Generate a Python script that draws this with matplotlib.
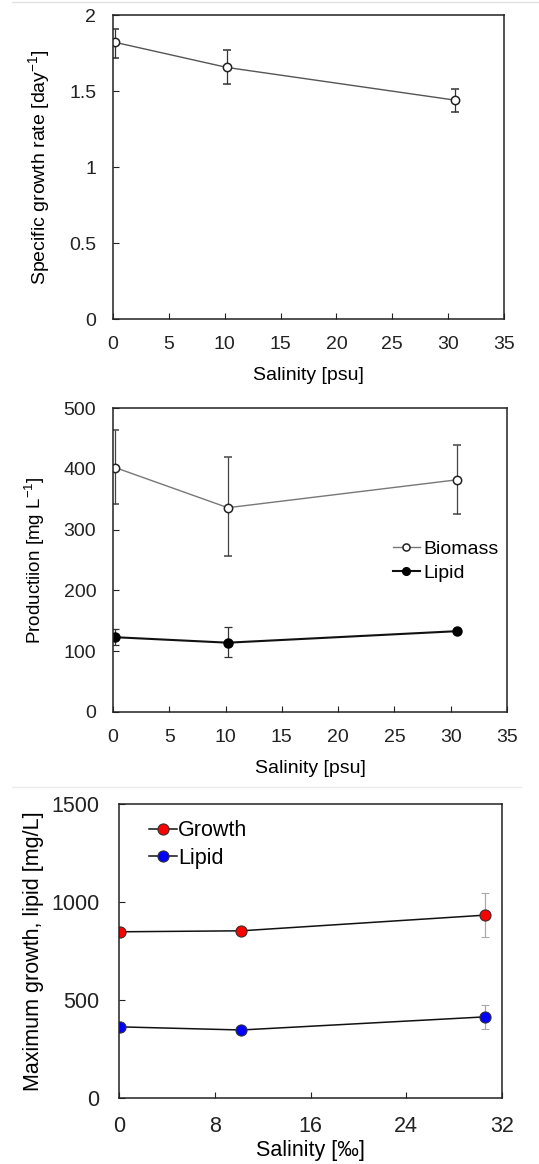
import matplotlib
matplotlib.use('agg')
import matplotlib.pyplot as plt
from matplotlib.lines import Line2D

plt.rcParams['font.family'] = ['Liberation Sans', 'DejaVu Sans']
plt.rcParams['mathtext.fontset'] = 'custom'
plt.rcParams['mathtext.rm'] = 'Liberation Sans'

# panel 1: specific growth rate
sal_a = [0.2, 10.2, 30.6]
mu = [1.82, 1.655, 1.44]
mu_err_lo = [0.10, 0.11, 0.08]
mu_err_hi = [0.09, 0.115, 0.075]

# panel 2: production
sal_b = [0.2, 10.2, 30.6]
biomass = [402, 336, 382]
biomass_lo = [60, 80, 56]
biomass_hi = [61, 83, 57]
lipid_b = [123, 114, 133]
lipid_b_lo = [13, 24, 0]
lipid_b_hi = [14, 26, 0]

# panel 3: max growth / lipid
sal_c = [0.05, 10.2, 30.6]
growth = [848, 853, 933]
growth_lo = [0, 0, 112]
growth_hi = [0, 0, 114]
lipid_c = [363, 347, 414]
lipid_c_lo = [0, 0, 60]
lipid_c_hi = [0, 0, 59]

fig = plt.figure(figsize=(5.39, 11.64), dpi=100)

# faint separator lines from the source screenshot
fig.add_artist(Line2D([12/539, 1], [1 - 2/1164] * 2, color='#e2e2e2', lw=1))
fig.add_artist(Line2D([12/539, 521/539], [1 - 787/1164] * 2, color='#ececec', lw=1))

def style(ax, fs, xpad, ypad):
    for s in ax.spines.values():
        s.set_linewidth(1.1)
        s.set_color('#222222')
    ax.tick_params(direction='in', length=4, width=0.8, labelsize=fs, colors='#222222')
    ax.tick_params(axis='x', pad=xpad)
    ax.tick_params(axis='y', pad=ypad)

# ---- panel 1
ax1 = fig.add_axes([113/539, 1 - 319/1164, 391/539, 304/1164])
ax1.errorbar(sal_a, mu, yerr=[mu_err_lo, mu_err_hi], color='#555555', lw=1,
             ecolor='#333333', elinewidth=0.9, capsize=3, capthick=0.9,
             marker='o', ms=6, mfc='white', mec='#222222', mew=1.1)
ax1.set_xlim(0, 35)
ax1.set_ylim(0, 2)
ax1.set_xticks(range(0, 36, 5))
ax1.set_yticks([0, 0.5, 1, 1.5, 2])
ax1.set_yticklabels(['0', '0.5', '1', '1.5', '2'])
style(ax1, 14, 12, 12)
ax1.set_xlabel('Salinity [psu]', fontsize=14, labelpad=10)
ax1.set_ylabel('Specific growth rate [day$^{\\mathregular{-1}}$]', fontsize=14, labelpad=12)

# ---- panel 2
ax2 = fig.add_axes([113/539, 1 - 712/1164, 394/539, 304/1164])
ax2.errorbar(sal_b, biomass, yerr=[biomass_lo, biomass_hi], color='#777777', lw=1,
             ecolor='#444444', elinewidth=0.9, capsize=3, capthick=0.9,
             marker='o', ms=6, mfc='white', mec='#222222', mew=1.1, label='Biomass')
ax2.errorbar(sal_b, lipid_b, yerr=[lipid_b_lo, lipid_b_hi], color='#111111', lw=1.5,
             ecolor='#333333', elinewidth=0.9, capsize=3, capthick=0.9,
             marker='o', ms=6.5, mfc='black', mec='black', label='Lipid')
ax2.set_xlim(0, 35)
ax2.set_ylim(0, 500)
ax2.set_xticks(range(0, 36, 5))
ax2.set_yticks(range(0, 501, 100))
style(ax2, 14, 12, 12)
ax2.set_xlabel('Salinity [psu]', fontsize=14, labelpad=10)
ax2.set_ylabel('Productiion [mg L$^{\\mathregular{-1}}$]', fontsize=13.5, labelpad=12)
h, l = ax2.get_legend_handles_labels()
h = [x[0] for x in h]
ax2.legend(h, l, loc='upper left', bbox_to_anchor=(0.71, 0.565), frameon=False,
           fontsize=14, handlelength=1.4, handletextpad=0.15, borderpad=0,
           borderaxespad=0, labelspacing=0.35, markerscale=0.85)

# ---- panel 3
ax3 = fig.add_axes([119/539, 1 - 1098/1164, 383/539, 294/1164])
ax3.errorbar(sal_c, growth, yerr=[growth_lo, growth_hi], color='#111111', lw=1.1,
             ecolor='#aaaaaa', elinewidth=0.9, capsize=3, capthick=0.9,
             marker='o', ms=8, mfc='#ff0000', mec='#333333', mew=0.8, label='Growth')
ax3.errorbar(sal_c, lipid_c, yerr=[lipid_c_lo, lipid_c_hi], color='#111111', lw=1.1,
             ecolor='#aaaaaa', elinewidth=0.9, capsize=3, capthick=0.9,
             marker='o', ms=8, mfc='#0000ff', mec='#333333', mew=0.8, label='Lipid')
ax3.set_xlim(0, 32)
ax3.set_ylim(0, 1500)
ax3.set_xticks(range(0, 33, 8))
ax3.set_yticks(range(0, 1501, 500))
style(ax3, 15.5, 13, 14)
ax3.set_xlabel('Salinity [‰]', fontsize=15.5, labelpad=2)
ax3.set_ylabel('Maximum growth, lipid [mg/L]', fontsize=15.5, labelpad=5)
h, l = ax3.get_legend_handles_labels()
h = [x[0] for x in h]
ax3.legend(h, l, loc='upper left', bbox_to_anchor=(0.078, 0.945), frameon=False,
           fontsize=15.5, handlelength=1.3, handletextpad=0.05, borderpad=0,
           borderaxespad=0, labelspacing=0.3, markerscale=1.0)

fig.savefig('out.png', dpi=100)
